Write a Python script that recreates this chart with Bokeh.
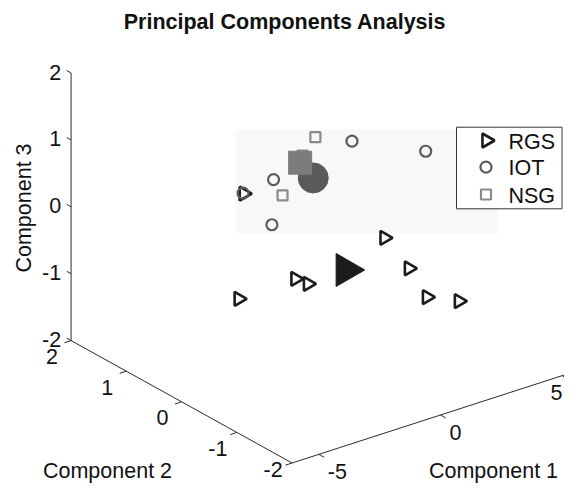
import numpy as np
from bokeh.plotting import figure
from bokeh.models import Range1d
from bokeh.core.properties import value
from bokeh.embed import file_html
from bokeh.resources import INLINE

# ---------------- data ----------------
title = "Principal Components Analysis"
axis_titles = ["Component 1", "Component 2", "Component 3"]
groups = ["RGS", "IOT", "NSG"]

rgs_pc1 = [-2.30, -0.83, -0.43, 2.15, 2.29, 2.35, 3.30, -1.32]
rgs_pc2 = [0.64, 0.26, 0.21, -0.04, -0.42, -0.72, -0.88, 0.98]
rgs_pc3 = [-1.2, -0.9, -1.0, -0.5, -0.8, -1.1, -1.2, 0.1]

iot_pc1 = [1.13, 2.57, -1.14, -1.62, -1.73]
iot_pc2 = [0.10, -0.60, 0.52, 0.86, 0.29]
iot_pc3 = [1.0, 1.0, 0.5, 0.2, 0.0]

nsg_pc1 = [-0.26, -1.02, -0.20]
nsg_pc2 = [0.15, 0.41, 0.41]
nsg_pc3 = [1.2, 0.3, 0.8]

pc1_ticks = [-5, 0, 5]
pc2_ticks = [-2, -1, 0, 1, 2]
pc3_ticks = [-2, -1, 0, 1, 2]
pc1_lim = (-6.1, 6.1)
pc2_lim = (-2.0, 2.0)
pc3_lim = (-2.0, 2.0)

# ---------------- 3-D view (oblique projection to canvas pixels) ----------------
ORIGIN = np.array([329.5, 219.5])
E1 = np.array([24.33, -7.87])
E2 = np.array([-55.25, -30.6])
E3 = np.array([0.0, -66.9])


def proj(a, b, c):
    a = np.atleast_1d(np.asarray(a, float))
    b = np.atleast_1d(np.asarray(b, float))
    c = np.atleast_1d(np.asarray(c, float))
    x = ORIGIN[0] + E1[0] * a + E2[0] * b + E3[0] * c
    y = ORIGIN[1] + E1[1] * a + E2[1] * b + E3[1] * c
    return x, y


def unit(v):
    v = np.asarray(v, float)
    return v / np.hypot(*v)


W, H = 564, 484
p = figure(width=W, height=H, output_backend="svg", toolbar_location=None, tools="",
           x_range=Range1d(0, W), y_range=Range1d(H, 0),
           min_border=0, x_axis_location=None, y_axis_location=None,
           outline_line_color=None, background_fill_color="white",
           border_fill_color="white")
p.grid.visible = False

FONT = value("Liberation Sans")
FS = "21.5px"
AX = "#2b2b2b"
TXT = "#111111"

# faint shaded panel behind the upper cluster
p.quad(left=[235], right=[497], top=[129], bottom=[232.5],
       fill_color="#f8f8f8", line_color=None)

# ---------------- axes ----------------
ax1x, ax1y = proj(list(pc1_lim), [pc2_lim[0]] * 2, [pc3_lim[0]] * 2)
ax2x, ax2y = proj([pc1_lim[0]] * 2, list(pc2_lim), [pc3_lim[0]] * 2)
ax3x, ax3y = proj([pc1_lim[0]] * 2, [pc2_lim[1]] * 2, list(pc3_lim))
for xs, ys in [(ax1x, ax1y), (ax2x, ax2y), (ax3x, ax3y)]:
    p.line(xs, ys, line_color=AX, line_width=1)

# ticks
k1 = len(pc1_ticks)
t1x, t1y = proj(pc1_ticks, [pc2_lim[0]] * k1, [pc3_lim[0]] * k1)
d1 = unit(-E2) * 6
p.segment(t1x, t1y, t1x + d1[0], t1y + d1[1], line_color=AX, line_width=1)

k2 = len(pc2_ticks)
t2x, t2y = proj([pc1_lim[0]] * k2, pc2_ticks, [pc3_lim[0]] * k2)
d2 = unit(-E1) * 7
p.segment(t2x, t2y, t2x + d2[0], t2y + d2[1], line_color=AX, line_width=1)

k3 = len(pc3_ticks)
t3x, t3y = proj([pc1_lim[0]] * k3, [pc2_lim[1]] * k3, pc3_ticks)
d3 = unit(E2) * 5
p.segment(t3x, t3y, t3x + d3[0], t3y + d3[1], line_color=AX, line_width=1)

# tick labels (kept inside the canvas)
lab1x = np.minimum(t1x + 9, W - 14)
p.text(lab1x, t1y + 17, text=[str(t) for t in pc1_ticks], text_font=FONT,
       text_font_size=FS, text_align="left", text_baseline="middle", text_color=TXT)
lab2y = np.minimum(t2y + 16, H - 15)
p.text(t2x - 19, lab2y, text=[str(t) for t in pc2_ticks], text_font=FONT,
       text_font_size=FS, text_align="center", text_baseline="middle", text_color=TXT)
p.text(t3x - 10, t3y - 1, text=[str(t) for t in pc3_ticks], text_font=FONT,
       text_font_size=FS, text_align="right", text_baseline="middle", text_color=TXT)

# axis titles
p.text([493], [H - 14], text=[axis_titles[0]], text_font=FONT, text_font_size=FS,
       text_align="center", text_baseline="middle", text_color=TXT)
p.text([107], [H - 14], text=[axis_titles[1]], text_font=FONT, text_font_size=FS,
       text_align="center", text_baseline="middle", text_color=TXT)
p.text([23.5], [207.5], text=[axis_titles[2]], text_font=FONT, text_font_size=FS,
       text_align="center", text_baseline="middle", angle=np.pi / 2, text_color=TXT)

# title
p.text([284.5], [21], text=[title], text_font=FONT, text_font_size=FS,
       text_font_style="bold", text_align="center", text_baseline="middle",
       text_color=TXT)

# ---------------- data points ----------------
RGS_C, IOT_C, NSG_C = "#1c1c1c", "#5c5c5c", "#8a8a8a"
TRI_ANGLE = -np.pi / 2

rx, ry = proj(rgs_pc1, rgs_pc2, rgs_pc3)
p.scatter(rx, ry, marker="triangle", size=14, angle=TRI_ANGLE,
          fill_color=None, line_color=RGS_C, line_width=2.6)
ix, iy = proj(iot_pc1, iot_pc2, iot_pc3)
p.scatter(ix, iy, marker="circle", size=11, fill_color=None,
          line_color=IOT_C, line_width=2.2)
nx, ny = proj(nsg_pc1, nsg_pc2, nsg_pc3)
p.scatter(nx, ny, marker="square", size=10, fill_color=None,
          line_color=NSG_C, line_width=2.2)

# group means
mrx, mry = proj(np.mean(rgs_pc1), np.mean(rgs_pc2), np.mean(rgs_pc3))
p.scatter(mrx, mry, marker="triangle", size=33, angle=TRI_ANGLE,
          fill_color=RGS_C, line_color=RGS_C, line_width=1)
mix, miy = proj(np.mean(iot_pc1), np.mean(iot_pc2), np.mean(iot_pc3))
p.scatter(mix, miy, marker="circle", size=30, fill_color="#5a5a5a",
          line_color="#5a5a5a", line_width=1)
mnx, mny = proj(np.mean(nsg_pc1), np.mean(nsg_pc2), np.mean(nsg_pc3))
p.scatter(mnx, mny, marker="square", size=23, fill_color="#7c7c7c",
          line_color="#7c7c7c", line_width=1)

# ---------------- legend ----------------
LX0, LX1, LY0, LY1 = 456.0, 561.5, 126.7, 208.3
p.quad(left=[LX0], right=[LX1], top=[LY0], bottom=[LY1],
       fill_color="white", line_color="#333333", line_width=1)
rows = [140.0, 166.7, 194.0]
mx = LX0 + 29.5
p.scatter([mx + 0.5], [rows[0]], marker="triangle", size=14, angle=TRI_ANGLE,
          fill_color=None, line_color=RGS_C, line_width=2.6)
p.scatter([mx], [rows[1]], marker="circle", size=11, fill_color=None,
          line_color=IOT_C, line_width=2.2)
p.scatter([mx], [rows[2]], marker="square", size=10, fill_color=None,
          line_color=NSG_C, line_width=2.2)
p.text([LX0 + 52] * 3, [r + 1 for r in rows], text=groups, text_font=FONT,
       text_font_size=FS, text_align="left", text_baseline="middle", text_color=TXT)

open("out.html", "w").write(file_html(p, INLINE))
